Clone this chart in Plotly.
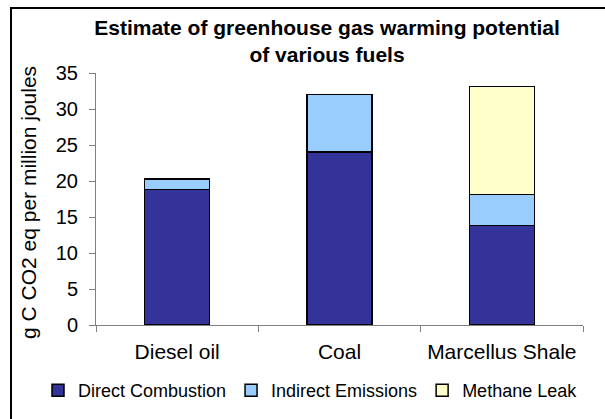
import plotly.graph_objects as go

categories = ["Diesel oil", "Coal", "Marcellus Shale"]
direct_combustion = [18.8, 24.0, 13.8]
indirect_emissions = [1.5, 8.0, 4.3]
methane_leak = [0, 0, 15.0]
series_names = ["Direct Combustion", "Indirect Emissions", "Methane Leak"]
series_colors = ["#333399", "#99CCFF", "#FFFFCC"]
y_ticks = [0, 5, 10, 15, 20, 25, 30, 35]

W, H = 605, 419
L, R, T, B = 96, 22, 73, 94
pw, ph = W - L - R, H - T - B

FONT = "Arial, Liberation Sans, sans-serif"


def px_x(x):
    return (x - L) / pw


def px_y(y):
    return (H - B - y) / ph


fig = go.Figure()
for name, vals, col in zip(series_names, [direct_combustion, indirect_emissions, methane_leak], series_colors):
    fig.add_trace(go.Bar(
        x=categories, y=vals, name=name,
        marker=dict(color=col, line=dict(color="#000000", width=1.5)),
        width=0.4,
    ))

fig.update_layout(
    width=W, height=H,
    barmode="stack",
    paper_bgcolor="white", plot_bgcolor="white",
    margin=dict(l=L, r=R, t=T, b=B, autoexpand=False),
    font=dict(family=FONT, color="black"),
    title=dict(
        text="<b>Estimate of greenhouse gas warming potential<br>of various fuels</b>",
        font=dict(size=21, family=FONT, color="black"),
        x=327 / W, xanchor="center", xref="container",
        y=1 - 35 / H, yanchor="top", yref="container",
    ),
    showlegend=True,
    legend=dict(
        orientation="h", x=px_x(38), xanchor="left", xref="paper",
        y=px_y(372), yanchor="top", yref="paper",
        font=dict(size=18, family=FONT, color="black"),
        itemwidth=30, traceorder="normal",
        bgcolor="rgba(0,0,0,0)",
    ),
    xaxis=dict(
        showline=True, linecolor="#808080", linewidth=1,
        ticks="outside", tickson="boundaries", ticklen=6, tickcolor="#808080",
        tickfont=dict(size=21, family=FONT, color="black"),
        ticklabelstandoff=8,
        showgrid=False,
    ),
    yaxis=dict(
        range=[0, 35], tickvals=y_ticks,
        showline=True, linecolor="#808080", linewidth=1,
        ticks="outside", ticklen=6, tickcolor="#808080",
        tickfont=dict(size=20, family=FONT, color="black"),
        ticklabelstandoff=7,
        showgrid=False, zeroline=False,
    ),
    annotations=[dict(
        text="g C CO2 eq per million joules", textangle=-90,
        xref="paper", yref="paper",
        x=px_x(28), y=px_y(203),
        xanchor="center", yanchor="middle", showarrow=False,
        font=dict(size=21, family=FONT, color="black"),
    )],
    shapes=[
        dict(type="rect", xref="paper", yref="paper",
             x0=px_x(11), x1=px_x(640), y0=px_y(8), y1=px_y(460),
             line=dict(color="black", width=2), fillcolor="rgba(0,0,0,0)",
             layer="below"),
    ],
)

fig.write_html(
    "out.html",
    config={"displayModeBar": False},
    post_script="document.body.style.margin='0px';document.body.style.overflow='hidden';",
)
